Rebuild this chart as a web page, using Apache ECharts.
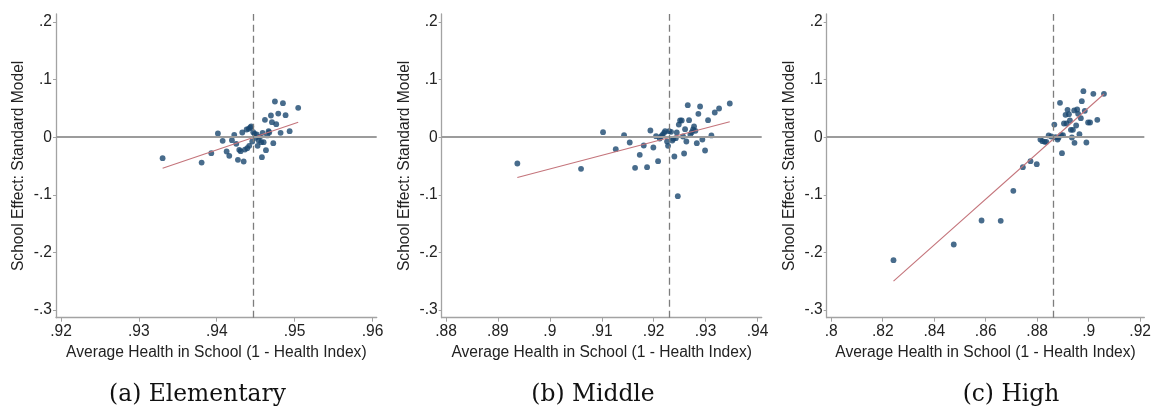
<!DOCTYPE html>
<html>
<head>
<meta charset="utf-8">
<title>School Effect vs Average Health</title>
<script src="https://cdn.jsdelivr.net/npm/echarts@6/dist/echarts.min.js"></script>
<style>
  html, body { margin: 0; padding: 0; background: #fff; }
  #chart { width: 1154px; height: 409px; }
</style>
</head>
<body>
<div id="chart"></div>
<script>
// School effect (standard model) against average school health, by school level

const elementaryPoints = [
  [0.93305, -0.0365], [0.93806, -0.0440], [0.93930, -0.0278], [0.94015, 0.0064], [0.94076, -0.0063],
  [0.94127, -0.0248], [0.94161, -0.0323], [0.94195, -0.0052], [0.94225, 0.0042], [0.94251, -0.0115],
  [0.94272, -0.0393], [0.94289, -0.0219], [0.94307, -0.0243], [0.94328, 0.0082], [0.94346, -0.0422],
  [0.94362, -0.0214], [0.94384, 0.0134], [0.94392, -0.0191], [0.94410, 0.0146], [0.94417, -0.0149],
  [0.94430, 0.0168], [0.94443, 0.0186], [0.94456, -0.0075], [0.94469, 0.0087], [0.94487, 0.0059],
  [0.94499, -0.0010], [0.94512, 0.0047], [0.94525, -0.0149], [0.94538, -0.0057], [0.94555, 0.0007],
  [0.94572, -0.0087], [0.94589, 0.0076], [0.94602, -0.0087], [0.94580, -0.0347], [0.94632, -0.0226],
  [0.94648, 0.0030], [0.94666, 0.0104], [0.94674, 0.0082], [0.94619, 0.0302], [0.94696, 0.0377],
  [0.94709, 0.0260], [0.94726, -0.0104], [0.94747, 0.0620], [0.94764, 0.0226], [0.94790, 0.0411],
  [0.94820, 0.0076], [0.94850, 0.0590], [0.94884, 0.0382], [0.94936, 0.0104], [0.95046, 0.0510]
];

const middlePoints = [
  [0.89374, -0.0457], [0.90601, -0.0549], [0.91025, 0.0087], [0.91270, -0.0208], [0.91430, 0.0035],
  [0.91539, -0.0092], [0.91642, -0.0531], [0.91732, -0.0306], [0.91809, -0.0144], [0.91873, -0.0521],
  [0.91937, 0.0116], [0.91994, -0.0179], [0.92046, 0.0017], [0.92085, -0.0417], [0.92117, -0.0023],
  [0.92143, 0.0012], [0.92168, 0.0042], [0.92200, 0.0076], [0.92220, 0.0104], [0.92258, -0.0075],
  [0.92277, -0.0149], [0.92297, 0.0104], [0.92335, 0.0094], [0.92360, -0.0057], [0.92380, -0.0028],
  [0.92399, -0.0335], [0.92426, -0.0017], [0.92445, 0.0082], [0.92465, -0.1024], [0.92484, 0.0220],
  [0.92509, 0.0290], [0.92541, 0.0290], [0.92566, 0.0012], [0.92586, -0.0283], [0.92605, 0.0139],
  [0.92630, -0.0075], [0.92657, 0.0556], [0.92682, 0.0295], [0.92707, 0.0047], [0.92734, 0.0087],
  [0.92759, 0.0134], [0.92778, 0.0186], [0.92804, 0.0111], [0.92831, -0.0104], [0.92861, 0.0406],
  [0.92894, 0.0533], [0.92938, -0.0040], [0.92990, -0.0231], [0.93048, 0.0295], [0.93112, 0.0030],
  [0.93177, 0.0429], [0.93260, 0.0498], [0.93466, 0.0585]
];

const highPoints = [
  [0.82418, -0.2135], [0.84759, -0.1863], [0.85839, -0.1446], [0.86583, -0.1452], [0.87073, -0.0931],
  [0.87443, -0.0521], [0.87740, -0.0417], [0.87983, -0.0469], [0.88126, -0.0040], [0.88203, -0.0069],
  [0.88292, -0.0080], [0.88357, -0.0080], [0.88446, 0.0030], [0.88550, 0.0012], [0.88666, 0.0220],
  [0.88716, 0.0000], [0.88793, -0.0040], [0.88832, -0.0005], [0.88886, 0.0597], [0.88924, 0.0035],
  [0.89001, 0.0035], [0.88963, -0.0278], [0.89040, 0.0238], [0.89102, 0.0389], [0.89140, 0.0238],
  [0.89179, 0.0476], [0.89233, 0.0400], [0.89271, 0.0290], [0.89310, 0.0128], [0.89348, -0.0005],
  [0.89387, 0.0128], [0.89437, 0.0464], [0.89449, -0.0097], [0.89514, 0.0203], [0.89553, 0.0481],
  [0.89591, 0.0406], [0.89641, 0.0052], [0.89695, 0.0330], [0.89733, 0.0625], [0.89795, 0.0799],
  [0.89849, 0.0458], [0.89911, -0.0092], [0.89977, 0.0255], [0.90054, 0.0255], [0.90181, 0.0753],
  [0.90335, 0.0302], [0.90594, 0.0753]
];

// Linear fit endpoints for each level
const elementaryFit = [[0.93305, -0.0538], [0.95046, 0.0260]];
const middleFit = [[0.89374, -0.0700], [0.93466, 0.0267]];
const highFit = [[0.82418, -0.2500], [0.90594, 0.0750]];

// Mean health in each level (dashed reference line)
const meanHealth = [0.94465, 0.92303, 0.88616];

// Tick labels
const xTicksElementary = [0.92, 0.93, 0.94, 0.95, 0.96];
const xTicksMiddle = [0.88, 0.89, 0.90, 0.91, 0.92, 0.93, 0.94];
const xTicksHigh = [0.80, 0.82, 0.84, 0.86, 0.88, 0.90, 0.92];
const yTicks = [-0.3, -0.2, -0.1, 0, 0.1, 0.2];

const captions = ['(a) Elementary', '(b) Middle', '(c) High'];
const xTitle = 'Average Health in School (1 - Health Index)';
const yTitle = 'School Effect: Standard Model';

const panels = [
  { points: elementaryPoints, fit: elementaryFit, mean: meanHealth[0], ticks: xTicksElementary,
    xMin: 0.91936, xMax: 0.96054, left: 56, right: 777.3, capX: 197.5 },
  { points: middlePoints, fit: middleFit, mean: meanHealth[1], ticks: xTicksMiddle,
    xMin: 0.87917, xMax: 0.94081, left: 441.7, right: 392.3, capX: 593 },
  { points: highPoints, fit: highFit, mean: meanHealth[2], ticks: xTicksHigh,
    xMin: 0.79823, xMax: 0.92162, left: 826.7, right: 7.3, capX: 1011 }
];

const FONT = 'Liberation Sans, Arial, sans-serif';
const TEXT = '#222';
const AXIS = '#a3a3a3';

function fmt(v) {
  if (Math.abs(v) < 1e-9) return '0';
  let s = String(Math.round(v * 1000) / 1000);
  return s.replace('0.', '.');
}

const grid = [], xAxis = [], yAxis = [], series = [], graphic = [];

panels.forEach((p, i) => {
  grid.push({ left: p.left, right: p.right, top: 14, bottom: 91.3, containLabel: false });
  xAxis.push({
    gridIndex: i, type: 'value', min: p.xMin, max: p.xMax,
    name: xTitle, nameLocation: 'middle', nameGap: 26,
    nameTextStyle: { fontFamily: FONT, fontSize: 15.6, color: TEXT },
    axisLine: { show: true, onZero: false, lineStyle: { color: AXIS, width: 1.3 } },
    axisTick: { show: true, inside: false, length: 4, customValues: p.ticks, lineStyle: { color: AXIS, width: 1 } },
    axisLabel: { show: true, margin: 6, customValues: p.ticks, formatter: fmt,
      fontFamily: FONT, fontSize: 15.6, color: TEXT },
    splitLine: { show: false }
  });
  yAxis.push({
    gridIndex: i, type: 'value', min: -0.31337, max: 0.21389,
    name: yTitle, nameLocation: 'middle', nameGap: 29,
    nameTextStyle: { fontFamily: FONT, fontSize: 15.6, color: TEXT },
    axisLine: { show: true, onZero: false, lineStyle: { color: AXIS, width: 1.3 } },
    axisTick: { show: true, inside: false, length: 3, customValues: yTicks, lineStyle: { color: AXIS, width: 1 } },
    axisLabel: { show: true, margin: 4, customValues: yTicks, formatter: fmt,
      fontFamily: FONT, fontSize: 15.6, color: TEXT },
    splitLine: { show: false }
  });
  // reference lines: zero effect and mean health
  series.push({
    type: 'scatter', xAxisIndex: i, yAxisIndex: i, data: [], z: 1, silent: true,
    markLine: {
      silent: true, symbol: 'none', label: { show: false }, animation: false, precision: 6,
      data: [
        { yAxis: 0, lineStyle: { color: '#9c9c9c', width: 1.8, type: 'solid' } },
        { xAxis: p.mean, lineStyle: { color: '#7d7d7d', width: 1.3, type: [7, 4] } }
      ]
    }
  });
  series.push({
    type: 'scatter', xAxisIndex: i, yAxisIndex: i, data: p.points, z: 3,
    symbol: 'circle', symbolSize: 5.8, itemStyle: { color: '#1a476f' }, animation: false
  });
  series.push({
    type: 'line', xAxisIndex: i, yAxisIndex: i, data: p.fit, z: 4,
    showSymbol: false, symbol: 'none', lineStyle: { color: '#c4747b', width: 1.1 }, animation: false
  });
  graphic.push({
    type: 'text', x: p.capX, y: 395,
    style: { text: captions[i], font: '23.4px "DejaVu Serif", serif', fill: '#111',
      textAlign: 'center', textVerticalAlign: 'middle' }
  });
});

const chart = echarts.init(document.getElementById('chart'), null, { renderer: 'canvas' });
chart.setOption({
  backgroundColor: '#fff',
  animation: false,
  grid, xAxis, yAxis, series, graphic
});
</script>
</body>
</html>
